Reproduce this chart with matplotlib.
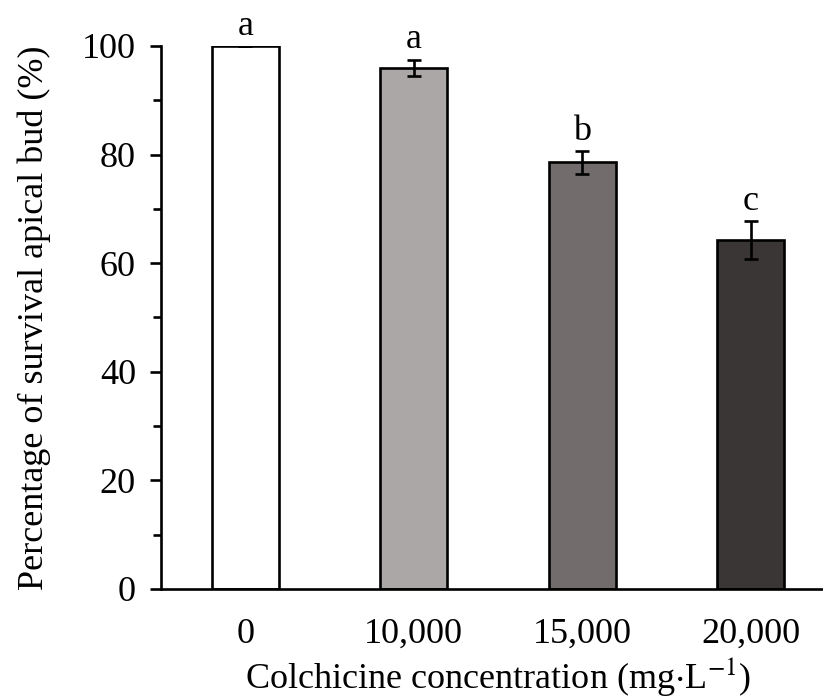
import numpy as np
import matplotlib
matplotlib.use('Agg')
import matplotlib.pyplot as plt
from matplotlib.ticker import MultipleLocator

# data
concentrations = ['0', '10,000', '15,000', '20,000']
survival = [100.0, 96.0, 78.6, 64.3]
errors = [0.0, 1.5, 2.1, 3.5]
letters = ['a', 'a', 'b', 'c']
bar_colors = ['#ffffff', '#aba7a7', '#726c6c', '#3a3636']

plt.rcParams['font.family'] = ['Liberation Serif', 'DejaVu Serif']
plt.rcParams['mathtext.fontset'] = 'stix'

fs = 26
lw = 1.9

fig = plt.figure(figsize=(8.23, 6.98), dpi=100)
ax = fig.add_axes([0.1956, 0.1562, 0.819, 0.778])

x = np.arange(len(concentrations))
ax.bar(x, survival, width=0.4, color=bar_colors, edgecolor='black', linewidth=lw,
       yerr=errors, error_kw=dict(ecolor='black', elinewidth=lw, capsize=5, capthick=lw))

for xi, v, e, lab in zip(x, survival, errors, letters):
    ax.annotate(lab, (xi, v + e), xytext=(0, 8), textcoords='offset points',
                ha='center', va='baseline', fontsize=fs)

ax.set_xlim(-0.5, 3.5)
ax.set_ylim(0, 100)
ax.set_xticks(x)
ax.set_xticklabels(concentrations)
ax.yaxis.set_major_locator(MultipleLocator(20))
ax.yaxis.set_minor_locator(MultipleLocator(10))

ax.spines['top'].set_visible(False)
ax.spines['right'].set_visible(False)
ax.spines['left'].set_linewidth(lw)
ax.spines['bottom'].set_linewidth(lw)

ax.tick_params(axis='x', length=0, pad=21, labelsize=fs)
ax.tick_params(axis='y', which='major', direction='out', length=8, width=lw, pad=10, labelsize=fs)
ax.tick_params(axis='y', which='minor', direction='out', length=6, width=lw)

ax.set_ylabel('Percentage of survival apical bud (%)', fontsize=fs, labelpad=22)
ax.set_xlabel(r'Colchicine concentration (mg$\cdot$L$^{-1}$)', fontsize=fs, labelpad=3)

plt.savefig('out.png', dpi=100)
plt.close()
